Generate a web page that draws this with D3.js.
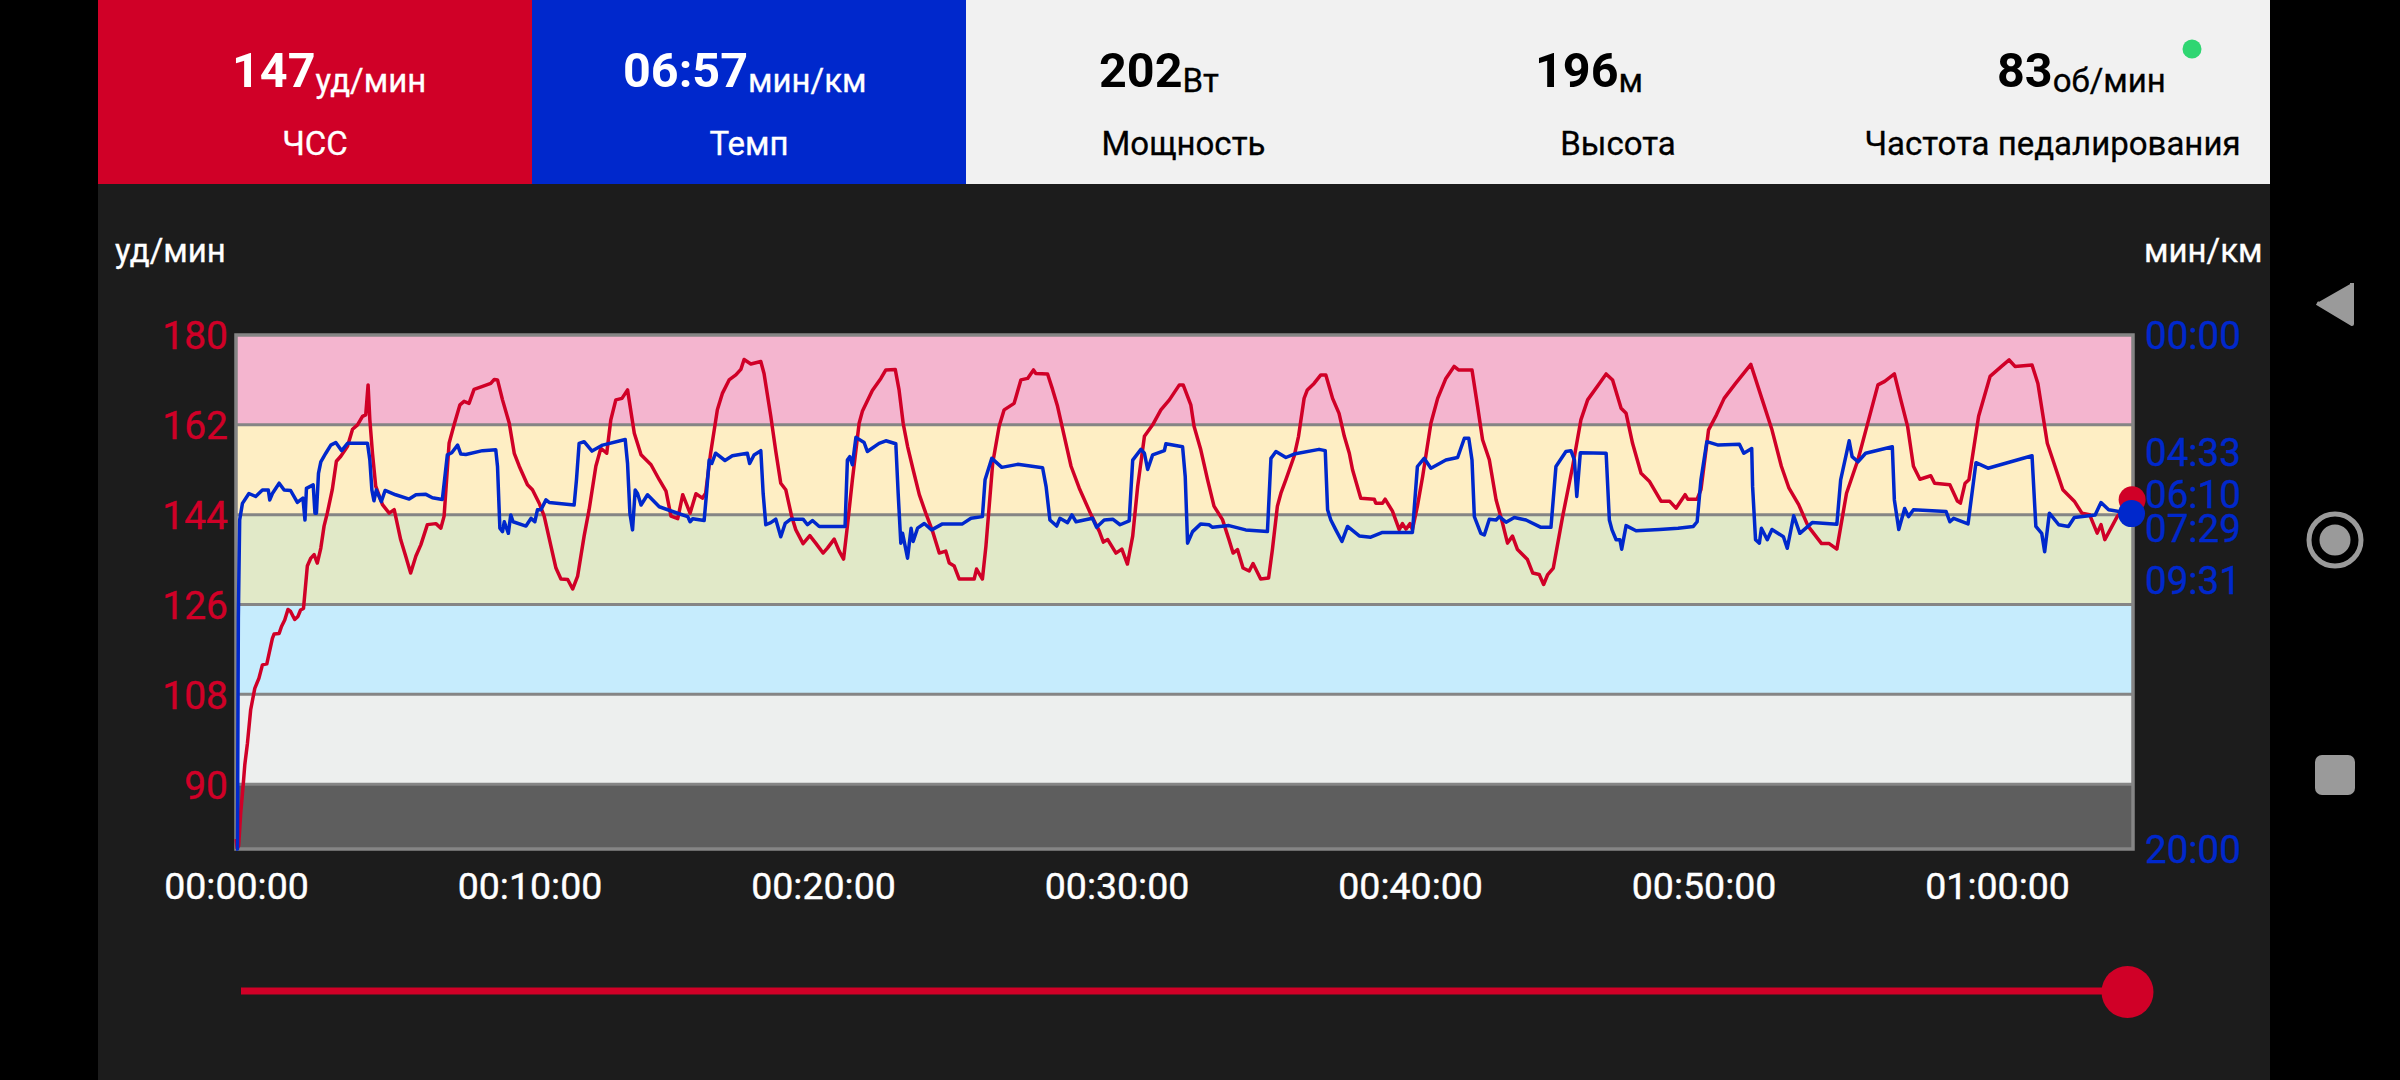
<!DOCTYPE html>
<html><head><meta charset="utf-8">
<script src="https://cdnjs.cloudflare.com/ajax/libs/d3/7.8.5/d3.min.js"></script>
<style>html,body{margin:0;padding:0;background:#000;overflow:hidden}svg{display:block;font-family:Roboto,sans-serif}</style>
</head><body><svg id="c" width="2400" height="1080"></svg>
<script>
const zoneLimits=[180,162,144,126,108,90,77];
const zoneColors=["#f4b5cf","#feeec4","#e1e9c8","#c6ecfd","#edefee","#5e5e5e"];
const hrTicks=[180,162,144,126,108,90];
const paceTicks=[0,273,370,449,571,1200];
const timeTicks=[0,10,20,30,40,50,60];
const metricValues=["147","06:57","202","196","83"];
const metricUnits=["уд/мин","мин/км","Вт","м","об/мин"];
const metricNames=["ЧСС","Темп","Мощность","Высота","Частота педалирования"];
const hrMinutes=[
0,.04,.09,.16,.25,.3,.39,.5,.64,.78,
.9,1.05,1.24,1.3,1.47,1.55,1.66,1.77,1.86,2,
2.11,2.2,2.3,2.43,2.55,2.66,2.77,2.89,3,3.11,
3.28,3.42,3.57,3.8,3.97,4.14,4.31,4.42,4.5,4.56,
4.65,4.76,4.99,5.22,5.39,5.61,5.78,5.95,6.13,6.3,
6.52,6.81,6.98,7.09,7.26,7.43,7.63,7.77,7.94,8.11,
8.4,8.68,8.8,8.91,9.08,9.31,9.48,9.65,9.93,10.1,
10.33,10.5,10.73,10.9,11.07,11.3,11.47,11.64,11.86,12.03,
12.26,12.43,12.63,12.77,12.94,13.15,13.34,13.57,13.8,14.14,
14.42,14.65,14.82,15.05,15.22,15.47,15.67,15.89,16,16.17,
16.4,16.57,16.8,17.03,17.2,17.31,17.54,17.88,17.99,18.22,
18.39,18.56,18.73,18.93,19.07,19.32,19.55,19.75,20,20.15,
20.38,20.55,20.7,20.83,21,21.23,21.34,21.68,21.97,22.14,
22.46,22.59,22.73,22.88,23.07,23.28,23.5,23.73,23.96,24.18,
24.3,24.47,24.64,25.15,25.23,25.43,25.55,25.78,26,26.17,
26.51,26.74,26.97,27.17,27.25,27.65,27.82,27.99,28.22,28.45,
28.73,29.13,29.41,29.55,29.7,29.98,30.18,30.37,30.55,30.72,
30.95,31.23,31.51,31.8,32.14,32.27,32.53,32.64,32.87,33.1,
33.32,33.61,33.83,33.97,34.12,34.31,34.52,34.65,34.91,35.18,
35.31,35.48,35.6,35.77,36.05,36.2,36.39,36.5,36.73,36.96,
37.13,37.36,37.58,37.76,37.93,38.04,38.32,38.78,38.83,39.06,
39.15,39.4,39.63,39.74,39.86,40,40.08,40.25,40.43,40.71,
40.94,41.22,41.5,41.65,42.11,42.3,42.47,42.7,42.93,43.15,
43.32,43.49,43.66,44,44.18,44.4,44.55,44.69,44.88,45.2,
45.54,45.82,46.05,46.45,46.68,46.9,47.19,47.36,47.58,47.87,
48.15,48.55,48.84,49.06,49.37,49.46,49.78,49.91,50.17,50.44,
50.7,51.09,51.61,52,52.33,52.65,52.91,53.24,53.56,54.02,
54.28,54.54,54.87,55.26,55.59,55.94,56.17,56.5,56.72,56.95,
57.15,57.37,57.74,57.87,58.39,58.65,58.75,58.91,59.04,59.37,
59.76,60.15,60.41,60.61,61.19,61.39,61.71,62.24,62.63,62.89,
63.15,63.41,63.54,63.67,64.1,64.6];
const hrBpm=[
79,77.2,77.6,84.2,90.2,93.9,98.2,104.9,109.2,111.2,
113.9,114.1,119.2,120.1,120.2,121.6,122.9,125,124.6,123,
123.6,124.9,125.2,133.7,135.3,136,134.3,137.3,141.7,144.3,
149,154.7,155.7,157.7,161.1,162,163.7,164,170,163,
156.3,149.7,146,144.3,145,139,135.7,132.3,135.7,138,
142,142.2,141.3,143.7,158.3,162,166,166.7,166.3,169.1,
169.7,170.3,171.1,171,167,162.3,156.3,153.7,150,149,
146.3,143.7,137.7,133.3,131.1,131,129.1,131.7,139.7,145,
153.7,157.3,156.3,163,167,167.3,169,160.3,156,154,
151,148.7,143.7,143.2,148,144.3,148.2,147.3,148.3,156.3,
165,168.3,171,172,173.1,175.1,174.2,174.7,172.3,163.7,
156.7,150.3,149,143.7,141,138.2,139.8,138.3,136.3,137.3,
139.1,136.7,135.1,141.7,151,162.3,164.7,168.9,171.3,173,
173.1,169,162.3,157.7,153,148,144.3,140.7,136.3,136.7,
134.3,133.7,131.1,131.1,133.1,131.1,137.7,154.3,161.7,165,
166.3,171,171.3,173,172.3,172.2,169.1,165.7,159.7,153.7,
149.3,144,140.7,138.5,139,136.3,137.1,134.1,139.7,149.7,
159.7,162,165,167,170,170,166,161.7,157,151,
145.7,143,139,136.3,137,133.3,132.7,134.2,131.1,131.3,
137,145.7,148.3,151,155.7,159.7,167.3,169,170.3,172,
172,167.3,164.3,159.7,156.3,153,147.3,147.1,146.3,146.3,
147.1,144.7,141,142.2,141.1,142.2,141,145.7,151.7,162.3,
167.3,171.3,173.7,173,173,165.7,159,155,147,142.3,
138.3,139.7,137,135,132.3,132,130,132,133.3,143.7,
153.7,163,167,170.3,172.2,171,165.3,164.3,158.3,152.3,
150.7,146.7,146.7,145.3,148,147.1,147.1,149,161,164,
167.3,170.3,174.1,167,161,153.7,149.3,146,141.7,138.2,
138.2,137.1,148.3,155,162.3,170,170.7,172.2,167,161.7,
153.7,151.1,151.8,150.3,150,146.7,146.3,150.3,151,163.7,
171.7,173.7,175,173.7,174,170.3,158.3,149,146.7,144.3,
144,140.3,142,139,143.7,147];
const paceMinutes=[
0,.05,.08,.125,.22,.44,.67,.9,1.1,1.15,
1.24,1.47,1.64,1.86,2.09,2.28,2.35,2.4,2.63,2.69,
2.74,2.81,2.89,3.06,3.23,3.4,3.6,3.8,4.48,4.56,
4.63,4.7,4.78,4.95,5.08,5.44,5.9,6.13,6.47,6.69,
7.03,7.2,7.35,7.55,7.66,7.83,8.4,8.85,8.91,8.99,
9.08,9.14,9.28,9.36,9.44,9.88,10.05,10.18,10.27,10.39,
10.56,10.67,11.52,11.6,11.69,11.86,12.13,12.49,13.26,13.34,
13.42,13.51,13.6,13.68,13.8,14.02,14.42,15,15.39,15.47,
15.56,15.95,16.03,16.12,16.21,16.34,16.66,16.91,17.42,17.5,
17.65,17.88,17.96,18.05,18.22,18.39,18.56,18.71,18.9,19.32,
19.47,19.64,19.87,20.75,20.83,20.91,21,21.12,21.4,21.51,
21.91,22.14,22.48,22.56,22.65,22.71,22.88,23,23.07,23.22,
23.45,23.7,24.07,24.75,25.04,25.43,25.52,25.75,26.09,26.63,
27.48,27.6,27.73,27.96,28.07,28.33,28.48,28.62,29.18,29.32,
29.58,29.87,30.12,30.43,30.55,30.83,30.95,31.06,31.23,31.63,
31.68,32.25,32.34,32.42,32.59,32.87,33.15,33.27,33.83,34.4,
35.14,35.26,35.43,35.77,36.05,36.9,37.11,37.19,37.3,37.47,
37.68,37.87,38.27,38.66,39.06,40.08,40.25,40.48,40.71,41.22,
41.62,41.85,42,42.11,42.19,42.41,42.53,42.7,42.93,43.04,
43.27,43.55,43.95,44.46,44.8,44.97,45.31,45.48,45.6,45.68,
45.8,46.68,46.79,46.88,47.02,47.15,47.21,47.36,47.7,48.5,
49.13,49.65,49.78,49.91,50.11,50.5,51.22,51.37,51.64,51.67,
51.77,51.9,51.97,52.17,52.33,52.72,52.85,53.07,53.28,53.7,
54.54,54.67,54.87,54.96,55.06,55.26,55.52,56.43,56.5,56.65,
56.85,56.98,57.15,58.26,58.39,58.52,59.01,59.28,59.69,61.19,
61.32,61.52,61.62,61.78,62.1,62.43,62.63,63.34,63.54,63.8,
64.58];
const paceSeconds=[
1200,1200,661,432,393,370,377,362,362,385,
370,346,362,363,391,381,432,358,350,416,
416,323,296,276,257,251,270,253,253,292,
362,387,362,389,363,373,383,373,372,380,
384,280,275,257,278,279,270,268,307,451,
459,436,463,420,436,446,428,436,408,408,
385,391,397,338,253,249,271,257,244,300,
416,455,362,370,397,373,401,415,424,436,
429,433,370,292,300,276,293,282,276,300,
280,270,370,443,438,430,471,440,430,430,
443,433,447,447,292,284,303,239,251,272,
253,247,254,370,486,463,521,451,482,451,
440,455,441,441,428,424,338,288,309,302,
310,354,432,446,428,438,420,436,428,449,
432,430,443,434,292,267,276,314,280,270,
254,261,331,486,459,441,443,449,445,455,
459,288,272,286,278,267,270,408,432,455,
482,447,469,472,461,461,307,288,311,292,
286,241,241,292,424,463,467,430,432,424,
437,426,432,449,449,307,272,270,292,377,
275,276,432,455,478,478,500,445,457,454,
451,447,436,338,249,257,255,276,265,354,
478,486,451,478,454,471,498,422,463,438,
442,338,276,247,284,296,276,261,385,454,
405,424,408,412,436,428,441,298,311,282,
447,463,506,416,443,447,426,420,391,408,
417];

const RED="#d00027",BLUE="#0028cc";
const svg=d3.select("#c");
const x=d3.scaleLinear().domain([0,64.63]).range([236,2133]);
const y=d3.scaleLinear().domain([180,77]).range([335,849]);
const yPace=d3.scaleLinear().domain([0,1200]).range([335,849]);

// app panel + header
svg.append("rect").attr("x",98).attr("y",0).attr("width",2172).attr("height",1080).attr("fill","#1c1c1c");
const cellEdges=[98,532,966,1401,1835,2270];
const headerFills=[RED,BLUE,"#f1f1f1","#f1f1f1","#f1f1f1"];
const valueStart=[232,623,1099,1535,1997];
metricNames.forEach((name,i)=>{
  const c0=cellEdges[i],c1=cellEdges[i+1], ink=i<2?"#fff":"#000";
  svg.append("rect").attr("x",c0).attr("y",0).attr("width",c1-c0).attr("height",184).attr("fill",headerFills[i]);
  const t=svg.append("text").attr("x",valueStart[i]).attr("y",87).attr("fill",ink);
  t.append("tspan").attr("font-size",48.5).attr("font-weight",700).text(metricValues[i]);
  t.append("tspan").attr("font-size",33).attr("dy",5).attr("stroke",ink).attr("stroke-width",.3).text(metricUnits[i]);
  svg.append("text").attr("x",(c0+c1)/2).attr("y",155).attr("text-anchor","middle").attr("font-size",33).attr("fill",ink).attr("stroke",ink).attr("stroke-width",.3).text(name);
});
svg.append("circle").attr("cx",2192).attr("cy",49).attr("r",9.5).attr("fill","#2fd672");

svg.append("text").attr("x",115).attr("y",262).attr("font-size",33).attr("fill","#fff").attr("stroke","#fff").attr("stroke-width",.3).text("уд/мин");
svg.append("text").attr("x",2144).attr("y",262).attr("font-size",33).attr("fill","#fff").attr("stroke","#fff").attr("stroke-width",.3).text("мин/км");

// zones
zoneColors.forEach((c,i)=>{
  svg.append("rect").attr("x",x(0)).attr("width",x.range()[1]-x(0))
   .attr("y",y(zoneLimits[i])).attr("height",y(zoneLimits[i+1])-y(zoneLimits[i])).attr("fill",c);
});
hrTicks.slice(1).forEach(v=>{
  svg.append("line").attr("x1",x(0)).attr("x2",x.range()[1]).attr("y1",y(v)).attr("y2",y(v)).attr("stroke","#858585").attr("stroke-width",3);
});
svg.append("rect").attr("x",x(0)).attr("y",y(180)).attr("width",x.range()[1]-x(0)).attr("height",y(77)-y(180))
  .attr("fill","none").attr("stroke","#858585").attr("stroke-width",3.5);

// lines
const hrLine=d3.line().x((d,i)=>x(hrMinutes[i])).y(d=>y(d));
const paceLine=d3.line().x((d,i)=>x(paceMinutes[i])).y(d=>yPace(d));
svg.append("path").datum(hrBpm).attr("d",hrLine).attr("fill","none").attr("stroke",RED).attr("stroke-width",3.5).attr("stroke-linejoin","round");
svg.append("path").datum(paceSeconds).attr("d",paceLine).attr("fill","none").attr("stroke",BLUE).attr("stroke-width",3.5).attr("stroke-linejoin","round");
svg.append("circle").attr("cx",x(hrMinutes[hrMinutes.length-1])).attr("cy",y(hrBpm[hrBpm.length-1])).attr("r",13.5).attr("fill",RED);
svg.append("circle").attr("cx",x(paceMinutes[paceMinutes.length-1])).attr("cy",yPace(paceSeconds[paceSeconds.length-1])).attr("r",13.5).attr("fill",BLUE);

// axes
function clean(g,color,size){g.select(".domain").remove();g.selectAll(".tick line").remove();
  g.selectAll("text").attr("fill",color).attr("font-size",size).attr("font-family","Roboto").attr("stroke",color).attr("stroke-width",.4);}
svg.append("g").attr("transform","translate(228,1.5)")
  .call(d3.axisLeft(y).tickValues(hrTicks).tickSize(0).tickPadding(0)).call(clean,RED,39);
const fmtPace=s=>d3.format("02")(Math.floor(s/60))+":"+d3.format("02")(s%60);
svg.append("g").attr("transform","translate(2145,1.5)")
  .call(d3.axisRight(yPace).tickValues(paceTicks).tickFormat(fmtPace).tickSize(0).tickPadding(0)).call(clean,BLUE,38.5);
const fmtTime=m=>d3.format("02")(Math.floor(m/60))+":"+d3.format("02")(m%60)+":00";
svg.append("g").attr("transform","translate(0,872)")
  .call(d3.axisBottom(x).tickValues(timeTicks).tickFormat(fmtTime).tickSize(0).tickPadding(0)).call(clean,"#fff",37.5);

// slider
svg.append("rect").attr("x",241).attr("y",987.5).attr("width",1890).attr("height",7).attr("fill",RED);
svg.append("circle").attr("cx",2127.5).attr("cy",992).attr("r",26).attr("fill",RED);

// system nav
const NAV="#9a9a9a";
svg.append("path").attr("d",d3.line()([[2352,283],[2352,324],[2317,303]])).attr("fill",NAV).attr("stroke",NAV).attr("stroke-width",4).attr("stroke-linejoin","round");
svg.append("circle").attr("cx",2335).attr("cy",540).attr("r",26).attr("fill","none").attr("stroke",NAV).attr("stroke-width",5);
svg.append("circle").attr("cx",2335).attr("cy",540).attr("r",15.5).attr("fill",NAV);
svg.append("rect").attr("x",2315).attr("y",755).attr("width",40).attr("height",40).attr("rx",7).attr("fill",NAV);
</script></body></html>
